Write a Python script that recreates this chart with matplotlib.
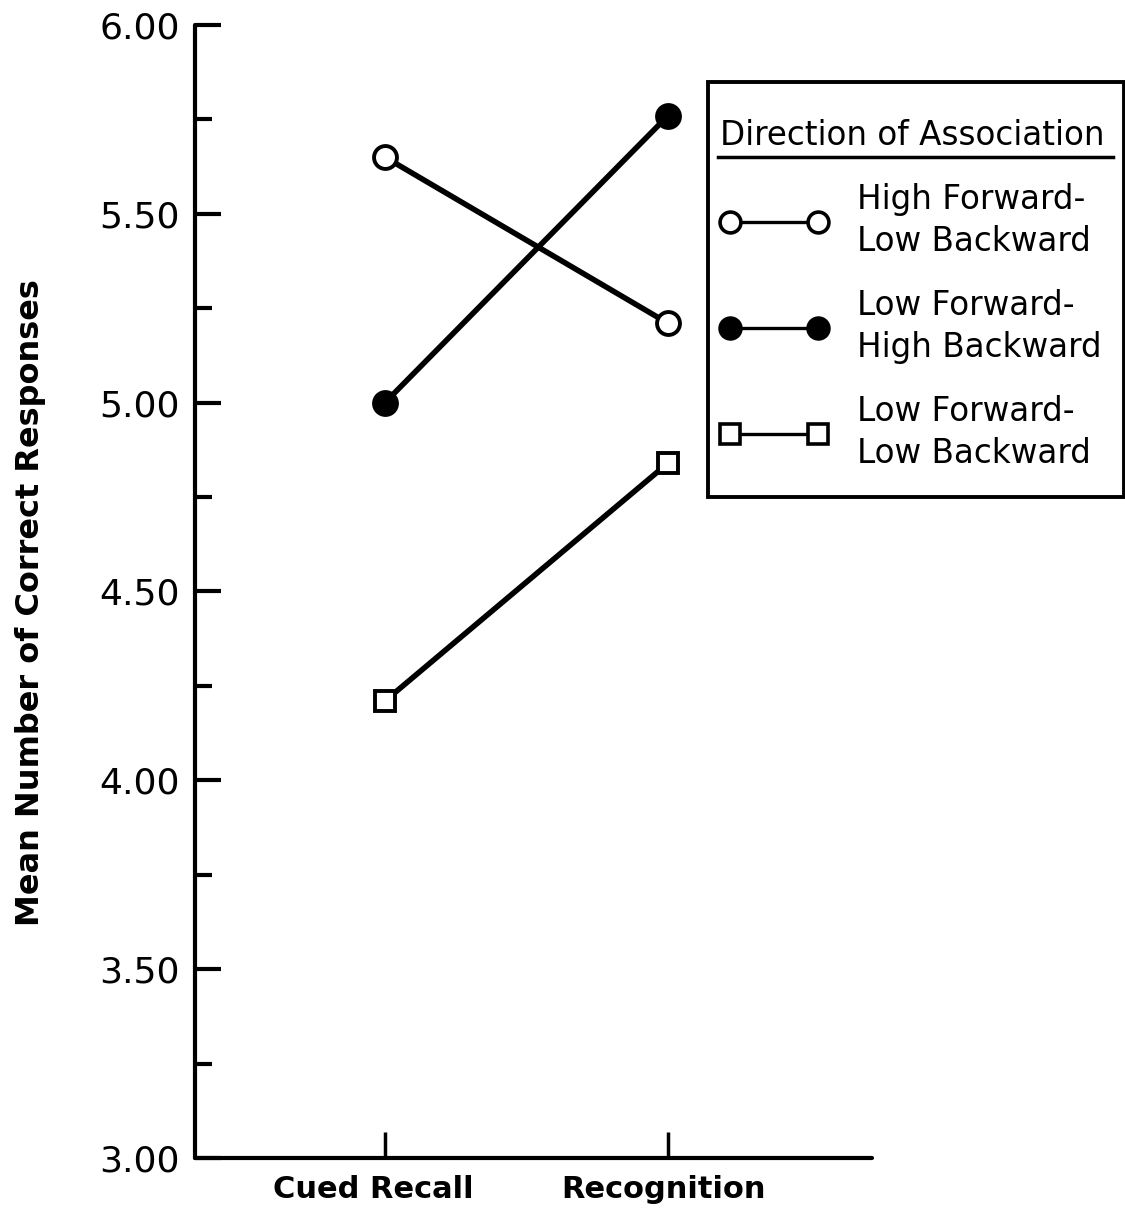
import numpy as np
import matplotlib
matplotlib.use("Agg")
from matplotlib import pyplot as plt
from matplotlib.lines import Line2D
from matplotlib.patches import Rectangle
from matplotlib.transforms import ScaledTranslation

# task conditions on the x axis
conditions = ["Cued Recall", "Recognition"]

# mean number of correct responses
high_fwd_low_bwd = [5.65, 5.21]
low_fwd_high_bwd = [5.00, 5.76]
low_fwd_low_bwd = [4.21, 4.84]

series_labels = ["High Forward-\nLow Backward",
                 "Low Forward-\nHigh Backward",
                 "Low Forward-\nLow Backward"]
y_ticks = [3.0, 3.5, 4.0, 4.5, 5.0, 5.5, 6.0]
y_tick_labels = ["3.00", "3.50", "4.00", "4.50", "5.00", "5.50", "6.00"]

plt.rcParams['font.family'] = ['DejaVu Sans']

W, H = 1125, 1211
fig = plt.figure(figsize=(W / 100, H / 100), dpi=100)
ax = fig.add_axes([0.1733, 0.0438, 0.602, 0.9356])

x = np.arange(len(conditions))
lw = 4.0
ms = 16.5
mew = 2.8

styles = [
    dict(marker='o', markerfacecolor='white'),
    dict(marker='o', markerfacecolor='black'),
    dict(marker='s', markerfacecolor='white'),
]
handles = []
for vals, st in zip([high_fwd_low_bwd, low_fwd_high_bwd, low_fwd_low_bwd], styles):
    s = ms if st['marker'] == 'o' else ms * 0.9
    ax.plot(x, vals, color='black', linewidth=lw, markersize=s,
            markeredgewidth=mew, markeredgecolor='black', zorder=3, **st)
    handles.append(Line2D([], [], color='black', linewidth=2.4,
                          marker=st['marker'], markerfacecolor=st['markerfacecolor'],
                          markeredgecolor='black', markeredgewidth=2.6,
                          markersize=15 if st['marker'] == 'o' else 14))

ax.set_xlim(-0.671, 1.721)
ax.set_ylim(3.0, 6.0)

for side in ['top', 'right']:
    ax.spines[side].set_visible(False)
for side in ['left', 'bottom']:
    ax.spines[side].set_linewidth(3.0)
    ax.spines[side].set_capstyle('round')

ax.set_yticks(y_ticks)
ax.set_yticklabels(y_tick_labels)
ax.set_yticks(np.arange(3.25, 6.0, 0.5), minor=True)
ax.tick_params(axis='y', which='major', direction='in', length=19, width=3.0,
               labelsize=26, pad=11)
ax.tick_params(axis='y', which='minor', direction='in', length=12, width=3.0)

ax.set_xticks(x)
ax.set_xticklabels(conditions, fontweight='bold')
ax.tick_params(axis='x', which='major', direction='in', length=19, width=2.5,
               labelsize=22, pad=12)
for lbl, dx in zip(ax.get_xticklabels(), [-12, -5]):
    lbl.set_transform(lbl.get_transform()
                      + ScaledTranslation(dx / 100, 0, fig.dpi_scale_trans))

ax.set_ylabel("Mean Number of Correct Responses", fontsize=23,
              fontweight='bold')
ax.yaxis.set_label_coords(-0.22, 0.49)

# legend box drawn separately so its size can follow the original
fig.add_artist(Rectangle((708 / W, 1 - 497 / H), 416 / W, 415 / H,
                         transform=fig.transFigure, fill=False,
                         edgecolor='black', linewidth=2.8))

leg = ax.legend(handles, series_labels, title="Direction of Association",
                loc='upper left', bbox_to_anchor=(720 / W, 1 - 119 / H),
                bbox_transform=fig.transFigure, numpoints=2,
                fontsize=23.5, title_fontsize=23.5, handlelength=3.3,
                handletextpad=0.9, labelspacing=0.95, borderpad=0,
                borderaxespad=0, frameon=False, alignment='left')
for t in leg.get_texts():
    t.set_linespacing(1.35)

# underline the legend title
fig.canvas.draw()
bb = leg.get_title().get_window_extent(fig.canvas.get_renderer())
inv = fig.transFigure.inverted()
(x0, y0), (x1, _) = inv.transform([(bb.x0 - 2, bb.y0 - 5), (bb.x1 + 8, bb.y0 - 5)])
fig.add_artist(Line2D([x0, x1], [y0, y0], color='black', linewidth=2.5,
                      transform=fig.transFigure))

fig.savefig("out.png", dpi=100)
